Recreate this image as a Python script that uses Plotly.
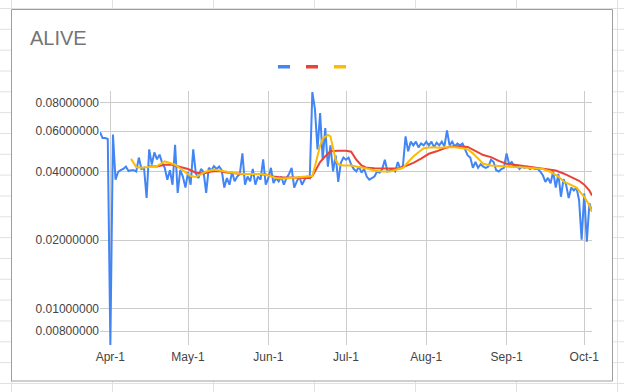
import plotly.graph_objects as go
import pandas as pd

W, H = 624, 392
L, R, T, B = 100, 32, 91, 47

base = pd.Timestamp("2021-04-01")

# Daily price (blue), starting Mar-28
blue_start = "2021-03-28"
blue = [
    0.0594, 0.056, 0.056, 0.0555, 0.0069, 0.058, 0.0368, 0.0398, 0.0405, 0.041,
    0.042, 0.0402, 0.0405, 0.0405, 0.040, 0.046, 0.041, 0.0415, 0.0306, 0.050,
    0.0429, 0.0485, 0.0452, 0.0474, 0.0436, 0.0415, 0.0368, 0.0405, 0.035, 0.0523,
    0.0322, 0.0405, 0.038, 0.034, 0.0398, 0.035, 0.050, 0.0392, 0.0374, 0.041,
    0.0398, 0.0322, 0.0415, 0.0405, 0.0422, 0.041, 0.042, 0.0405, 0.034, 0.0374,
    0.035, 0.0398, 0.0362, 0.038, 0.039, 0.048, 0.035, 0.038, 0.0362, 0.041,
    0.035, 0.038, 0.0368, 0.0452, 0.035, 0.0374, 0.0415, 0.0356, 0.0374, 0.0362,
    0.038, 0.035, 0.0374, 0.039, 0.0415, 0.034, 0.0362, 0.038, 0.035, 0.0368,
    0.038, 0.0374, 0.089, 0.075, 0.050, 0.072, 0.045, 0.062, 0.042, 0.052,
    0.040, 0.047, 0.036, 0.0436, 0.046, 0.045, 0.046, 0.0429, 0.041, 0.040,
    0.042, 0.0395, 0.041, 0.038, 0.0368, 0.0375, 0.038, 0.040, 0.0395, 0.041,
    0.045, 0.040, 0.0405, 0.041, 0.040, 0.044, 0.041, 0.0425, 0.057, 0.049,
    0.054, 0.052, 0.054, 0.051, 0.053, 0.052, 0.054, 0.052, 0.054, 0.051,
    0.0535, 0.052, 0.054, 0.0515, 0.0605, 0.052, 0.054, 0.0515, 0.053, 0.052,
    0.053, 0.050, 0.047, 0.046, 0.0415, 0.044, 0.0415, 0.043, 0.042, 0.0415,
    0.042, 0.045, 0.044, 0.0405, 0.040, 0.041, 0.0415, 0.048, 0.043, 0.044,
    0.042, 0.0425, 0.041, 0.042, 0.0415, 0.042, 0.041, 0.0415, 0.041, 0.041,
    0.040, 0.0385, 0.036, 0.0375, 0.0355, 0.040, 0.034, 0.039, 0.031, 0.037,
    0.035, 0.0306, 0.034, 0.033, 0.034, 0.030, 0.0201, 0.032, 0.0197, 0.029,
    0.0267,
]

# Long moving average (red): day offsets from Apr-1 and values
red_days = [15, 18, 21, 24, 27, 30, 33, 36, 39, 42, 45, 48, 51, 54, 57, 60, 63, 66, 69, 72,
            75, 77, 78, 79, 81, 83, 85, 88, 91, 93, 95, 97, 99, 102, 105, 108, 111, 114, 117, 120,
            123, 126, 129, 132, 135, 138, 140, 142, 144, 147, 150, 153, 156, 160, 164, 168, 172, 175, 178, 181,
            183, 185, 186]
red = [0.0422, 0.0420, 0.0428, 0.0428, 0.0418, 0.0410, 0.0395, 0.0392, 0.0400, 0.0402,
       0.0396, 0.0392, 0.0390, 0.0390, 0.0388, 0.0388, 0.0380, 0.0376, 0.0376, 0.0374,
       0.0374, 0.0374, 0.0382, 0.0400, 0.0440, 0.0466, 0.0490, 0.0493, 0.0493, 0.0488,
       0.0450, 0.0425, 0.0415, 0.0413, 0.0412, 0.0410, 0.0412, 0.0422, 0.0436, 0.0455,
       0.0478, 0.0490, 0.0505, 0.0515, 0.0516, 0.0512, 0.0500, 0.0485, 0.0472, 0.0462,
       0.0445, 0.0432, 0.0428, 0.0422, 0.0418, 0.0412, 0.0404, 0.0392, 0.0378, 0.0364,
       0.0350, 0.0330, 0.0314]

# Short moving average (yellow)
yellow_days = [8, 10, 12, 15, 18, 21, 23, 25, 27, 29, 31, 33, 35, 37, 40, 43, 46, 49, 52, 55,
               58, 61, 64, 67, 70, 73, 76, 78, 79, 80, 81, 82, 84, 85, 86, 87, 88, 90, 93, 96,
               99, 102, 105, 108, 111, 113, 115, 117, 119, 121, 124, 127, 130, 133, 136, 138, 140, 142, 144, 147,
               150, 153, 156, 160, 164, 167, 170, 173, 175, 178, 180, 183, 185, 186]
yellow = [0.0454, 0.0418, 0.0415, 0.0418, 0.0422, 0.0443, 0.0435, 0.0428, 0.0412, 0.0395,
          0.0382, 0.0378, 0.0390, 0.0400, 0.0408, 0.0402, 0.0396, 0.0392, 0.0390, 0.0390,
          0.0390, 0.0385, 0.0374, 0.0373, 0.0375, 0.0377, 0.0380, 0.0382, 0.0420, 0.0470,
          0.0520, 0.0557, 0.0578, 0.0570, 0.0500, 0.0450, 0.0430, 0.0425, 0.0425, 0.0420,
          0.0412, 0.0404, 0.0400, 0.0400, 0.0410, 0.0415, 0.0440, 0.0465, 0.0485, 0.0505,
          0.0510, 0.0508, 0.0510, 0.0510, 0.0505, 0.0500, 0.0480, 0.0455, 0.0432, 0.0425,
          0.0422, 0.0420, 0.0418, 0.0416, 0.0414, 0.0410, 0.0398, 0.0380, 0.0362, 0.0350,
          0.0340, 0.0310, 0.0284, 0.0267]

month_ticks = ["2021-04-01", "2021-05-01", "2021-06-01", "2021-07-01", "2021-08-01", "2021-09-01", "2021-10-01"]
month_labels = ["Apr-1", "May-1", "Jun-1", "Jul-1", "Aug-1", "Sep-1", "Oct-1"]
y_ticks = [0.008, 0.01, 0.02, 0.04, 0.06, 0.08]

BLUE, RED, YELLOW = "#4285f4", "#ea4335", "#fbbc04"

blue_dates = pd.date_range(blue_start, periods=len(blue), freq="D")
red_dates = [base + pd.Timedelta(days=d) for d in red_days]
yellow_dates = [base + pd.Timedelta(days=d) for d in yellow_days]

fig = go.Figure()
fig.add_trace(go.Scatter(x=blue_dates, y=blue, mode="lines",
                         line=dict(color=BLUE, width=2), showlegend=False))
fig.add_trace(go.Scatter(x=red_dates, y=red, mode="lines",
                         line=dict(color=RED, width=2), showlegend=False))
fig.add_trace(go.Scatter(x=yellow_dates, y=yellow, mode="lines",
                         line=dict(color=YELLOW, width=2), showlegend=False))

pw = W - L - R
ph = H - T - B


def px(x):
    return (x - L) / pw


def py(y):
    return (H - B - y) / ph


shapes = []
grid_col = "#e1e1e1"
# spreadsheet cell grid behind the chart
for cx in [11, 112, 213, 314, 415, 516, 617]:
    shapes.append(dict(type="line", xref="paper", yref="paper", x0=px(cx + 0.5), x1=px(cx + 0.5),
                       y0=py(0), y1=py(H), line=dict(color=grid_col, width=1), layer="below"))
k = 0
while True:
    ry = 8.5 + 20.83 * k
    if ry > H:
        break
    shapes.append(dict(type="line", xref="paper", yref="paper", x0=px(0), x1=px(W),
                       y0=py(ry), y1=py(ry), line=dict(color=grid_col, width=1), layer="below"))
    k += 1
# chart box
shapes.append(dict(type="rect", xref="paper", yref="paper", x0=px(11.5), x1=px(612.5),
                   y0=py(381), y1=py(9.5), fillcolor="white",
                   line=dict(color="#9e9e9e", width=1), layer="below"))
# legend keys
for x0, col in [(278, BLUE), (306, RED), (334, YELLOW)]:
    shapes.append(dict(type="rect", xref="paper", yref="paper", x0=px(x0), x1=px(x0 + 12),
                       y0=py(68.5), y1=py(65), fillcolor=col, line=dict(width=0), layer="above"))

fig.update_layout(
    width=W, height=H,
    margin=dict(l=L, r=R, t=T, b=B),
    paper_bgcolor="white",
    plot_bgcolor="rgba(0,0,0,0)",
    font=dict(family="Arial, Liberation Sans, sans-serif", size=12, color="#444444"),
    title=dict(text="ALIVE", font=dict(size=20, color="#757575", family="Arial, Liberation Sans, sans-serif"),
               x=30/W, xref="container", xanchor="left",
               y=1 - 38/H, yref="container", yanchor="middle"),
    shapes=shapes,
    showlegend=False,
    xaxis=dict(type="date",
               range=[base + pd.Timedelta(days=-4), base + pd.Timedelta(days=186)],
               tickvals=month_ticks, ticktext=month_labels,
               showgrid=True, gridcolor="#cccccc", gridwidth=1,
               zeroline=False, showline=False, ticks="",
               ticklabelstandoff=3,
               tickfont=dict(size=12, color="#444444")),
    yaxis=dict(type="log",
               range=[-2.1578, -1.0457],
               tickvals=y_ticks, tickformat=".8f",
               showgrid=True, gridcolor="#cccccc", gridwidth=1,
               zeroline=False, showline=False, ticks="",
               tickfont=dict(size=12, color="#444444")),
)

fig.write_html("out.html", config={"displayModeBar": False},
               post_script="document.body.style.margin='0';document.body.style.padding='0';")
